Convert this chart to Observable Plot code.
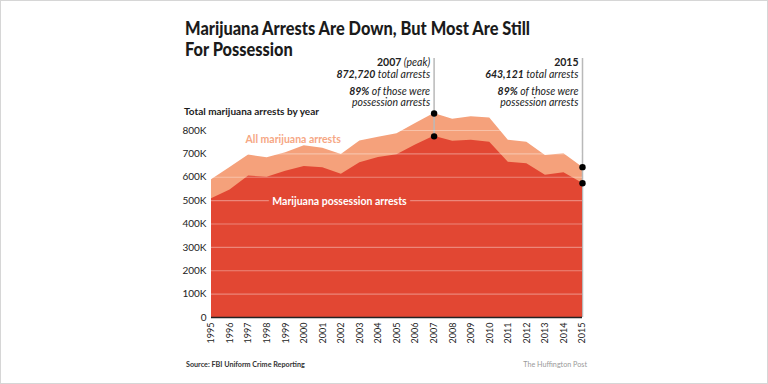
<!DOCTYPE html>
<html>
<head>
<meta charset="utf-8">
<script src="https://cdn.jsdelivr.net/npm/d3@7"></script>
<script src="https://cdn.jsdelivr.net/npm/@observablehq/plot@0.6"></script>
<style>
html,body{margin:0;padding:0;background:#fff;}
#wrap{position:relative;width:768px;height:384px;overflow:hidden;background:#fff;}
#chart{position:absolute;left:0;top:0;}
#frame{position:absolute;left:0;top:0;width:768px;height:384px;box-sizing:border-box;border:1px solid #d6d6d6;pointer-events:none;}
.t{position:absolute;white-space:nowrap;}
#title{left:185px;top:18px;font-family:Lato,sans-serif;font-weight:900;font-size:18px;line-height:21px;color:#1b1b1b;transform-origin:0 0;}
#sub{left:184px;top:105px;font-family:Lato,sans-serif;font-weight:700;font-size:10px;color:#1b1b1b;}
#src{left:186px;top:360px;font-family:Lato,sans-serif;font-weight:700;font-size:7.2px;color:#333;}
#credit{right:181px;top:360px;font-family:Lato,sans-serif;font-size:7.2px;color:#9a9a9a;}
</style>
</head>
<body>
<div id="wrap">
  <div id="chart"></div>
  <div class="t" id="title">Marijuana Arrests Are Down, But Most Are Still<br>For Possession</div>
  <div class="t" id="sub">Total marijuana arrests by year</div>
  <div class="t" id="src">Source: FBI Uniform Crime Reporting</div>
  <div class="t" id="credit">The Huffington Post</div>
  <div id="frame"></div>
</div>
<script>
// ---- data ----
const years = [1995,1996,1997,1998,1999,2000,2001,2002,2003,2004,2005,2006,2007,2008,2009,2010,2011,2012,2013,2014,2015];
const allArrests = [588964,641642,695201,682885,704812,734497,723627,697082,755186,771605,786545,829625,872720,847864,858408,853839,757969,749825,693482,700993,643121];
const possessionArrests = [508000,545000,605000,600000,626000,646000,641000,613000,662000,684000,696000,738000,775000,754000,758000,750000,664000,658000,609000,619000,574000];
const yTicks = [0,100000,200000,300000,400000,500000,600000,700000,800000];
const annYears = [2007, 2015];
const annHeads = ["2007 (peak)", "2015"];
const annTotals = ["872,720", "643,121"];
const annShares = ["89%", "89%"];
const seriesLabels = ["All marijuana arrests", "Marijuana possession arrests"];

const rows = years.map((y, i) => ({year: y, all: allArrests[i], poss: possessionArrests[i]}));
const ann = annYears.map((y, i) => ({
  year: y,
  head: annHeads[i],
  total: annTotals[i] + " total arrests",
  share: annShares[i] + " of those were",
  tail: "possession arrests",
  all: allArrests[years.indexOf(y)],
  poss: possessionArrests[years.indexOf(y)]
}));

const lightColor = "#f5a17b";
const darkColor = "#e24733";
const labelFont = "Lato, sans-serif";

const annText = (field, dy, cls) => Plot.text(ann, {
  x: "year", text: field, frameAnchor: "top", dy, dx: -4,
  textAnchor: "end", lineAnchor: "middle", fontSize: 10.5, fontStyle: "italic",
  fill: "#222", fontFamily: labelFont, ariaDescription: cls
});

const chart = Plot.plot({
  width: 768,
  height: 384,
  marginLeft: 211,
  marginRight: 186,
  marginTop: 58,
  marginBottom: 67,
  style: {fontFamily: labelFont, fontSize: "10px", color: "#222", background: "transparent"},
  x: {domain: [1995, 2015], label: null},
  y: {domain: [0, 1108000], label: null},
  marks: [
    Plot.areaY(rows, {x: "year", y: "all", fill: lightColor}),
    Plot.ruleX(ann, {x: "year", stroke: "#b9b9b9", strokeWidth: 1.5}),
    Plot.areaY(rows, {x: "year", y: "poss", fill: darkColor}),
    Plot.ruleY(yTicks.slice(1), {stroke: "#fff", strokeOpacity: 0.35, strokeWidth: 1.2}),
    Plot.ruleY([0], {stroke: "#222", strokeWidth: 1.5}),
    Plot.dot(ann, {x: "year", y: "all", r: 3.2, fill: "#000"}),
    Plot.dot(ann, {x: "year", y: "poss", r: 3.2, fill: "#000"}),
    annText("head", 4, "ann-head"),
    annText("total", 16, "ann-bold"),
    annText("share", 33.5, "ann-bold"),
    annText("tail", 44.5, "ann-plain"),
    Plot.text([seriesLabels[0]], {x: 1999.4, y: 762000, text: d => d, fill: "#f6a784", fontWeight: 700, fontSize: 10.5, fontFamily: labelFont}),
    Plot.text([seriesLabels[1]], {x: 2001.9, y: 497000, text: d => d, fill: "#fff", fontWeight: 700, fontSize: 10.5, fontFamily: labelFont, stroke: darkColor, strokeWidth: 8}),
    Plot.axisY({ticks: yTicks, tickSize: 0, tickPadding: 5, tickFormat: d => d === 0 ? "0" : d / 1000 + "K", fontSize: 10, fill: "#222"}),
    Plot.axisX({ticks: years, tickSize: 0, tickPadding: 5, tickRotate: -90, tickFormat: d => String(d), fontSize: 9, fill: "#222", label: null})
  ]
});
document.getElementById("chart").appendChild(chart);

// mixed bold / italic runs inside the annotation lines
function splitRuns(sel, firstStyle) {
  d3.select(chart).selectAll(`g[aria-description="${sel}"] text`).each(function() {
    const t = this.textContent;
    const i = t.indexOf(" ");
    const first = i < 0 ? t : t.slice(0, i);
    const rest = i < 0 ? "" : t.slice(i);
    const el = d3.select(this);
    el.text(null);
    el.append("tspan").attr("font-weight", 700).attr("font-style", firstStyle).text(first);
    if (rest) el.append("tspan").attr("font-style", "italic").attr("font-weight", 400).text(rest);
  });
}
splitRuns("ann-head", "normal");
splitRuns("ann-bold", "italic");

// fit the condensed headline to its width in the reference
const title = document.getElementById("title");
const tw = title.getBoundingClientRect().width;
title.style.transform = `scaleX(${345 / tw})`;
</script>
</body>
</html>
